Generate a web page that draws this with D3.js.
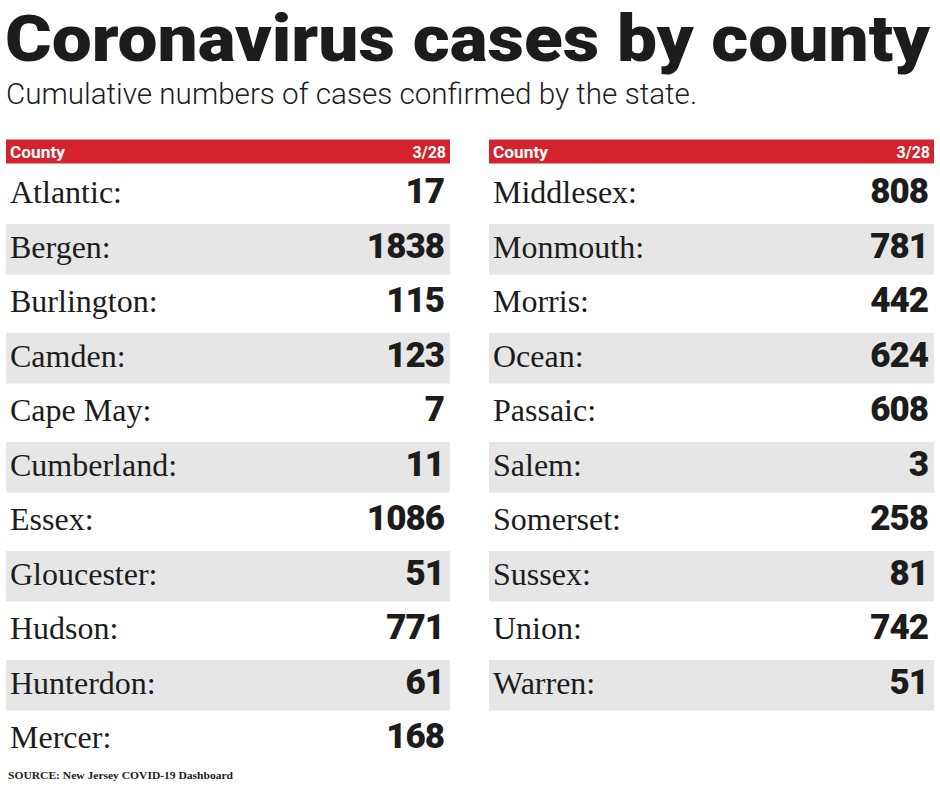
<!doctype html>
<html lang="en">
<head>
    <meta charset="UTF-8">
    <title>Coronavirus cases by county</title>
    <script src="https://cdnjs.cloudflare.com/ajax/libs/d3/7.8.5/d3.min.js"></script>
    <style>
        html, body {
            margin: 0;
            padding: 0;
            background: #fff;
            overflow: hidden;
        }
    </style>
</head>
<body>
<svg id="chart" width="940" height="788"></svg>
<script>
    // data (cumulative cases, 3/28)
    const leftCounties = ["Atlantic", "Bergen", "Burlington", "Camden", "Cape May", "Cumberland",
        "Essex", "Gloucester", "Hudson", "Hunterdon", "Mercer"];
    const leftCases = [17, 1838, 115, 123, 7, 11, 1086, 51, 771, 61, 168];
    const rightCounties = ["Middlesex", "Monmouth", "Morris", "Ocean", "Passaic", "Salem",
        "Somerset", "Sussex", "Union", "Warren"];
    const rightCases = [808, 781, 442, 624, 608, 3, 258, 81, 742, 51];
    const columnLabels = ["County", "3/28"];

    const svg = d3.select("#chart");
    const red = "#d2232e";
    const stripe = "#e6e6e6";
    const ink = "#1c1c1c";

    svg.append("text")
        .attr("x", 5)
        .attr("y", 61)
        .attr("textLength", 925)
        .attr("lengthAdjust", "spacingAndGlyphs")
        .style("font-family", "Roboto, sans-serif")
        .style("font-weight", 900)
        .style("font-size", "64px")
        .style("fill", ink)
        .text("Coronavirus cases by county");

    svg.append("text")
        .attr("x", 6)
        .attr("y", 104)
        .attr("textLength", 691)
        .attr("lengthAdjust", "spacingAndGlyphs")
        .style("font-family", "Roboto, sans-serif")
        .style("font-weight", 300)
        .style("font-size", "29px")
        .style("fill", ink)
        .text("Cumulative numbers of cases confirmed by the state.");

    // shared row scale: 11 slots, step 54.5
    const rows = d3.scaleBand()
        .domain(d3.range(leftCounties.length))
        .range([169.5, 765])
        .paddingInner(4 / 54.5)
        .paddingOuter(0);

    function drawTable(x0, x1, names, values) {
        const g = svg.append("g");
        const col = d3.scaleLinear().domain([0, 1]).range([x0, x1]);
        const data = names.map((n, i) => ({name: n, value: values[i], i: i}));

        g.append("rect")
            .attr("x", col(0)).attr("y", 139.5)
            .attr("width", col(1) - col(0)).attr("height", 24)
            .attr("fill", red);
        g.append("text")
            .attr("x", col(0) + 4).attr("y", 158)
            .style("font-family", "Roboto, sans-serif")
            .style("font-weight", 700).style("font-size", "16px")
            .attr("textLength", 55).attr("lengthAdjust", "spacingAndGlyphs")
            .style("fill", "#fff")
            .text(columnLabels[0]);
        g.append("text")
            .attr("x", col(1) - 4).attr("y", 158)
            .attr("text-anchor", "end")
            .style("font-family", "Roboto, sans-serif")
            .style("font-weight", 700).style("font-size", "16px")
            .style("fill", "#fff")
            .text(columnLabels[1]);

        g.selectAll(".stripe")
            .data(data.filter(d => d.i % 2 === 1))
            .enter().append("rect")
            .attr("class", "stripe")
            .attr("x", col(0))
            .attr("y", d => rows(d.i))
            .attr("width", col(1) - col(0))
            .attr("height", rows.bandwidth())
            .attr("fill", stripe);

        g.selectAll(".name")
            .data(data)
            .enter().append("text")
            .attr("class", "name")
            .attr("x", col(0) + 4)
            .attr("y", d => rows(d.i) + 33.5)
            .style("font-family", "'Liberation Serif', serif")
            .style("font-size", "32px")
            .style("fill", ink)
            .text(d => d.name + ":");

        g.selectAll(".value")
            .data(data)
            .enter().append("text")
            .attr("class", "value")
            .attr("x", col(1) - 6)
            .attr("y", d => rows(d.i) + 33.5)
            .attr("text-anchor", "end")
            .style("font-family", "Roboto, sans-serif")
            .style("font-weight", 900)
            .style("font-size", "35px")
            .style("letter-spacing", "-1px")
            .style("fill", ink)
            .text(d => d.value);
    }

    drawTable(6, 450, leftCounties, leftCases);
    drawTable(489, 934, rightCounties, rightCases);

    svg.append("text")
        .attr("x", 8)
        .attr("y", 779)
        .attr("textLength", 225)
        .attr("lengthAdjust", "spacingAndGlyphs")
        .style("font-family", "'Liberation Serif', serif")
        .style("font-weight", 700)
        .style("font-size", "11px")
        .style("fill", ink)
        .text("SOURCE: New Jersey COVID-19 Dashboard");
</script>
</body>
</html>
